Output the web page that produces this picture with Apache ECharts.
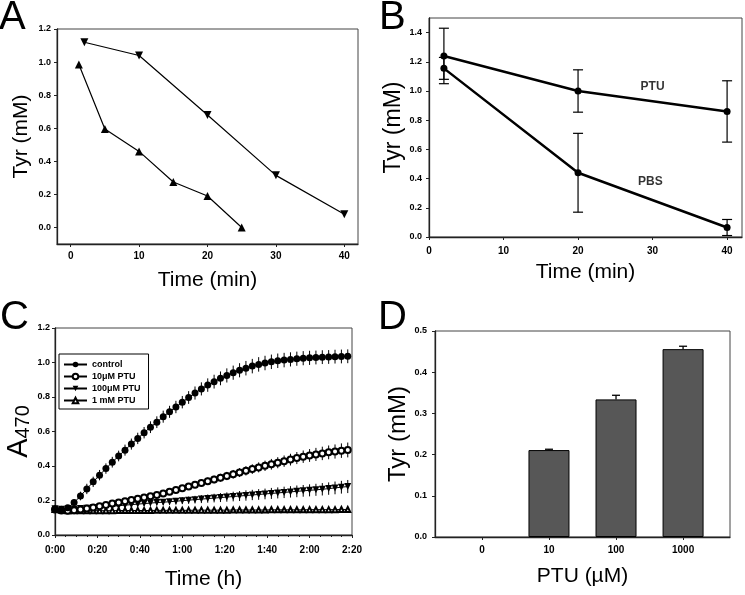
<!DOCTYPE html>
<html><head><meta charset="utf-8">
<script src="https://cdn.jsdelivr.net/npm/echarts@6/dist/echarts.min.js"></script>
<style>html,body{margin:0;padding:0;background:#fff}#c{width:745px;height:595px}</style>
</head><body><div id="c"></div>
<script>
// ---------- Panel A ----------
const aTimeDown = [2, 10, 20, 30, 40];
const aTyrDown = [1.12, 1.04, 0.68, 0.315, 0.08];
const aTimeUp = [1.2, 5, 10, 15, 20, 25];
const aTyrUp = [0.985, 0.595, 0.46, 0.275, 0.19, 0.0];
const aXTicks = [0, 10, 20, 30, 40];
const aYTicks = [0, 0.2, 0.4, 0.6, 0.8, 1.0, 1.2];
// ---------- Panel B ----------
const bTime = [2, 20, 40];
const bPTU = [1.24, 1.0, 0.86];
const bPTUerr = [0.19, 0.145, 0.21];
const bPBS = [1.155, 0.44, 0.065];
const bPBSerr = [0.075, 0.27, 0.055];
const bXTicks = [0, 10, 20, 30, 40];
const bYTicks = [0, 0.2, 0.4, 0.6, 0.8, 1.0, 1.2, 1.4];
const bLabels = [['PTU', 30, 1.03], ['PBS', 29.7, 0.38]];
// ---------- Panel C ----------
const cNames = ['control', '10\u03bcM PTU', '100\u03bcM PTU', '1 mM PTU'];
const cTime = [0,3,6,9,12,15,18,21,24,27,30,33,36,39,42,45,48,51,54,57,60,63,66,69,72,75,78,81,84,87,90,93,96,99,102,105,108,111,114,117,120,123,126,129,132,135,138];
const cControl = [0.150,0.145,0.158,0.188,0.226,0.267,0.308,0.347,0.385,0.422,
 0.458,0.492,0.527,0.560,0.593,0.625,0.654,0.686,0.714,0.742,
 0.770,0.797,0.823,0.847,0.869,0.889,0.908,0.925,0.941,0.955,
 0.967,0.979,0.989,0.997,1.004,1.010,1.014,1.018,1.022,1.025,
 1.027,1.029,1.031,1.032,1.034,1.035,1.036];
const cControlErr = [0.008,0.008,0.010,0.018,0.025,0.030,0.030,0.030,0.030,0.031,
 0.031,0.032,0.032,0.033,0.033,0.034,0.034,0.035,0.035,0.036,
 0.036,0.037,0.038,0.038,0.039,0.040,0.040,0.041,0.041,0.041,
 0.042,0.042,0.042,0.042,0.042,0.042,0.042,0.041,0.041,0.041,
 0.041,0.040,0.040,0.040,0.040,0.040,0.040];
const c10 = [0.148,0.142,0.140,0.143,0.148,0.154,0.160,0.167,0.174,0.182,
 0.189,0.196,0.203,0.210,0.217,0.224,0.232,0.241,0.251,0.261,
 0.271,0.281,0.291,0.302,0.312,0.322,0.332,0.342,0.352,0.362,
 0.372,0.382,0.392,0.401,0.410,0.419,0.428,0.437,0.446,0.454,
 0.461,0.467,0.473,0.479,0.484,0.489,0.493];
const c10Err = [0.004,0.004,0.004,0.005,0.005,0.005,0.006,0.006,0.007,0.007,
 0.008,0.008,0.009,0.010,0.011,0.012,0.013,0.014,0.015,0.016,
 0.017,0.018,0.019,0.020,0.021,0.022,0.023,0.024,0.025,0.026,
 0.027,0.028,0.029,0.030,0.031,0.032,0.033,0.034,0.035,0.036,
 0.037,0.038,0.039,0.040,0.041,0.042,0.043];
const c100 = [0.152,0.150,0.150,0.151,0.153,0.155,0.158,0.161,0.164,0.167,
 0.170,0.173,0.176,0.179,0.182,0.185,0.188,0.190,0.193,0.196,
 0.199,0.202,0.205,0.208,0.211,0.214,0.217,0.220,0.223,0.226,
 0.229,0.232,0.235,0.238,0.241,0.244,0.247,0.250,0.253,0.256,
 0.259,0.262,0.265,0.269,0.273,0.277,0.281];
const c100Err = [0.004,0.004,0.004,0.005,0.005,0.006,0.006,0.007,0.008,0.009,
 0.010,0.011,0.012,0.013,0.014,0.015,0.016,0.017,0.018,0.019,
 0.020,0.021,0.022,0.023,0.024,0.025,0.026,0.027,0.028,0.029,
 0.030,0.030,0.031,0.031,0.032,0.032,0.033,0.033,0.034,0.034,
 0.035,0.035,0.036,0.036,0.037,0.037,0.038];
const c1mM = [0.148,0.143,0.141,0.140,0.140,0.140,0.141,0.141,0.141,0.141,
 0.142,0.142,0.142,0.142,0.142,0.142,0.143,0.143,0.143,0.143,
 0.143,0.143,0.144,0.144,0.144,0.144,0.144,0.144,0.145,0.145,
 0.145,0.145,0.145,0.145,0.146,0.146,0.146,0.146,0.146,0.146,
 0.147,0.147,0.147,0.147,0.147,0.148,0.148];
// ---------- Panel D ----------
const dCategories = ['0', '10', '100', '1000'];
const dTyr = [0, 0.211, 0.334, 0.456];
const dErr = [0, 0.002, 0.010, 0.007];

const FONT = '"Liberation Sans", Arial, Helvetica, sans-serif';
const AXC = '#222';

function pairs(xs, ys) { return xs.map((x, i) => [x, ys[i]]); }
function errData(xs, ys, es) { return xs.map((x, i) => [x, ys[i] - es[i], ys[i] + es[i]]); }
function errRender(capW, lw, topOnly) {
  return function (params, api) {
    const x = api.value(0), lo = api.value(1), hi = api.value(2);
    const p1 = api.coord([x, lo]), p2 = api.coord([x, hi]);
    const st = { stroke: '#000', lineWidth: lw };
    const ch = [{ type: 'line', shape: { x1: p1[0], y1: p1[1], x2: p2[0], y2: p2[1] }, style: st }];
    if (capW > 0) {
      ch.push({ type: 'line', shape: { x1: p2[0] - capW / 2, y1: p2[1], x2: p2[0] + capW / 2, y2: p2[1] }, style: st });
      if (!topOnly) ch.push({ type: 'line', shape: { x1: p1[0] - capW / 2, y1: p1[1], x2: p1[0] + capW / 2, y2: p1[1] }, style: st });
    }
    return { type: 'group', children: ch };
  };
}
function xAxisDef(grid, o) {
  return Object.assign({
    type: 'value', gridIndex: grid, nameLocation: 'middle',
    nameTextStyle: { fontFamily: FONT, fontSize: 21, color: '#000' },
    axisLine: { show: true, onZero: false, lineStyle: { color: AXC, width: 1.3 } },
    axisTick: { show: true, length: 3, lineStyle: { color: AXC, width: 1 } },
    splitLine: { show: false }
  }, o);
}
function yAxisDef(grid, o) {
  return Object.assign({
    type: 'value', gridIndex: grid, nameLocation: 'middle', nameRotate: 90,
    nameTextStyle: { fontFamily: FONT, fontSize: 22, color: '#000' },
    axisLine: { show: true, onZero: false, lineStyle: { color: AXC, width: 1.3 } },
    axisTick: { show: true, length: 3, lineStyle: { color: AXC, width: 1 } },
    splitLine: { show: false }
  }, o);
}
const lblX = (o) => Object.assign({ fontFamily: FONT, fontWeight: 'bold', fontSize: 10, color: '#000' }, o);
const lblY = (o) => Object.assign({ fontFamily: FONT, fontWeight: 'bold', fontSize: 9, color: '#000' }, o);
const gridBase = { show: true, borderColor: '#444', borderWidth: 1, containLabel: false };
const titleStyle = { fontSize: 40, fontWeight: 'normal', fontFamily: FONT, color: '#000' };
const fmtHM = v => Math.floor(v / 60) + ':' + String(v % 60).padStart(2, '0');

const option = {
  backgroundColor: '#fff',
  animation: false,
  title: [
    { text: 'A', left: -1, top: -2, padding: 0, textStyle: titleStyle },
    { text: 'B', left: 379, top: -2, padding: 0, textStyle: titleStyle },
    { text: 'C', left: 0, top: 298, padding: 0, textStyle: titleStyle },
    { text: 'D', left: 378, top: 298, padding: 0, textStyle: titleStyle }
  ],
  grid: [
    Object.assign({ left: 57, top: 29, width: 301, height: 215 }, gridBase),
    Object.assign({ left: 429, top: 18, width: 313, height: 219 }, gridBase),
    Object.assign({ left: 55, top: 328, width: 297, height: 207 }, gridBase),
    Object.assign({ left: 435, top: 331, width: 295, height: 206 }, gridBase)
  ],
  legend: {
    data: cNames, orient: 'vertical', left: 59, top: 354, selectedMode: false,
    borderColor: '#000', borderWidth: 1, padding: [6, 8, 4, 4],
    itemWidth: 23, itemHeight: 7, itemGap: 3,
    textStyle: { fontFamily: FONT, fontWeight: 'bold', fontSize: 9, color: '#000' }
  },
  xAxis: [
    xAxisDef(0, { min: -2, max: 42, name: 'Time (min)', nameGap: 26,
      axisTick: { show: true, length: 3, customValues: aXTicks, lineStyle: { color: AXC } },
      axisLabel: lblX({ customValues: aXTicks, margin: 7 }) }),
    xAxisDef(1, { min: 0, max: 42, name: 'Time (min)', nameGap: 25,
      axisTick: { show: true, length: 3, customValues: bXTicks, lineStyle: { color: AXC } },
      axisLabel: lblX({ customValues: bXTicks, margin: 9 }) }),
    xAxisDef(2, { min: 0, max: 140, interval: 20, name: 'Time (h)', nameGap: 34,
      minorTick: { show: true, splitNumber: 4, length: 2, lineStyle: { color: AXC } },
      axisLabel: lblX({ formatter: fmtHM, margin: 10 }) }),
    xAxisDef(3, { min: -0.7, max: 3.7, name: 'PTU (\u00b5M)', nameGap: 29,
      axisTick: { show: true, length: 3, customValues: [0, 1, 2, 3], lineStyle: { color: AXC } },
      axisLabel: lblX({ customValues: [0, 1, 2, 3], formatter: v => dCategories[Math.round(v)], margin: 8 }) })
  ],
  yAxis: [
    yAxisDef(0, { min: -0.1, max: 1.2, name: 'Tyr (mM)', nameGap: 25,
      nameTextStyle: { fontFamily: FONT, fontSize: 21, color: '#000' },
      axisTick: { show: true, length: 3, customValues: aYTicks, lineStyle: { color: AXC } },
      axisLabel: lblY({ customValues: aYTicks, formatter: v => v.toFixed(1), margin: 6 }) }),
    yAxisDef(1, { min: 0, max: 1.5, name: 'Tyr (mM)', nameGap: 22,
      nameTextStyle: { fontFamily: FONT, fontSize: 23, color: '#000' },
      axisTick: { show: true, length: 3, customValues: bYTicks, lineStyle: { color: AXC } },
      axisLabel: lblY({ customValues: bYTicks, formatter: v => v.toFixed(1), margin: 7 }) }),
    yAxisDef(2, { min: 0, max: 1.2, interval: 0.2, name: '{a|A}{s|470}', nameGap: 15,
      nameTextStyle: { fontFamily: FONT, color: '#000',
        rich: { a: { fontSize: 29, fontFamily: FONT, color: '#000' }, s: { fontSize: 20, fontFamily: FONT, color: '#000', padding: [8, 0, 0, 0] } } },
      axisLabel: lblY({ formatter: v => v.toFixed(1), margin: 5 }) }),
    yAxisDef(3, { min: 0, max: 0.5, interval: 0.1, name: 'Tyr (mM)', nameGap: 25,
      nameTextStyle: { fontFamily: FONT, fontSize: 24, color: '#000' },
      axisLabel: lblY({ formatter: v => v.toFixed(1), margin: 8 }) })
  ],
  series: [
    // A
    { type: 'line', name: 'A-down', xAxisIndex: 0, yAxisIndex: 0, data: pairs(aTimeDown, aTyrDown),
      symbol: 'triangle', symbolRotate: 180, symbolSize: 8, itemStyle: { color: '#000' }, lineStyle: { color: '#000', width: 1.2 } },
    { type: 'line', name: 'A-up', xAxisIndex: 0, yAxisIndex: 0, data: pairs(aTimeUp, aTyrUp),
      symbol: 'triangle', symbolSize: 8, itemStyle: { color: '#000' }, lineStyle: { color: '#000', width: 1.2 } },
    // B
    { type: 'custom', name: 'B-err-PTU', xAxisIndex: 1, yAxisIndex: 1, renderItem: errRender(10, 1.2, false),
      data: errData(bTime, bPTU, bPTUerr), encode: { x: 0, y: [1, 2] }, z: 1 },
    { type: 'custom', name: 'B-err-PBS', xAxisIndex: 1, yAxisIndex: 1, renderItem: errRender(10, 1.2, false),
      data: errData(bTime, bPBS, bPBSerr), encode: { x: 0, y: [1, 2] }, z: 1 },
    { type: 'line', name: 'PTU', xAxisIndex: 1, yAxisIndex: 1, data: pairs(bTime, bPTU),
      symbol: 'circle', symbolSize: 7, itemStyle: { color: '#000' }, lineStyle: { color: '#000', width: 2.5 }, z: 3 },
    { type: 'line', name: 'PBS', xAxisIndex: 1, yAxisIndex: 1, data: pairs(bTime, bPBS),
      symbol: 'circle', symbolSize: 7, itemStyle: { color: '#000' }, lineStyle: { color: '#000', width: 2.5 }, z: 3 },
    { type: 'scatter', name: 'B-labels', xAxisIndex: 1, yAxisIndex: 1, symbolSize: 0,
      data: bLabels.map(l => ({ value: [l[1], l[2]], name: l[0] })),
      label: { show: true, position: 'inside', formatter: p => p.name, fontFamily: FONT, fontWeight: 'bold', fontSize: 12, color: '#000' } },
    // C error bars
    { type: 'custom', name: 'C-err-1', xAxisIndex: 2, yAxisIndex: 2, renderItem: errRender(0, 1, false),
      data: errData(cTime, cControl, cControlErr), encode: { x: 0, y: [1, 2] }, z: 1 },
    { type: 'custom', name: 'C-err-2', xAxisIndex: 2, yAxisIndex: 2, renderItem: errRender(0, 1, false),
      data: errData(cTime, c10, c10Err), encode: { x: 0, y: [1, 2] }, z: 1 },
    { type: 'custom', name: 'C-err-3', xAxisIndex: 2, yAxisIndex: 2, renderItem: errRender(0, 1, false),
      data: errData(cTime, c100, c100Err), encode: { x: 0, y: [1, 2] }, z: 1 },
    // C lines
    { type: 'line', name: cNames[3], xAxisIndex: 2, yAxisIndex: 2, data: pairs(cTime, c1mM),
      symbol: 'emptyTriangle', symbolSize: 5, itemStyle: { color: '#000', borderWidth: 1 }, lineStyle: { color: '#000', width: 1 }, z: 3 },
    { type: 'line', name: cNames[2], xAxisIndex: 2, yAxisIndex: 2, data: pairs(cTime, c100),
      symbol: 'triangle', symbolRotate: 180, symbolSize: 7, itemStyle: { color: '#000' }, lineStyle: { color: '#000', width: 1 }, z: 3 },
    { type: 'line', name: cNames[1], xAxisIndex: 2, yAxisIndex: 2, data: pairs(cTime, c10),
      symbol: 'emptyCircle', symbolSize: 6, itemStyle: { color: '#000', borderWidth: 1 }, lineStyle: { color: '#000', width: 1 }, z: 3 },
    { type: 'line', name: cNames[0], xAxisIndex: 2, yAxisIndex: 2, data: pairs(cTime, cControl),
      symbol: 'circle', symbolSize: 7, itemStyle: { color: '#000' }, lineStyle: { color: '#000', width: 1 }, z: 4 },
    // D
    { type: 'bar', name: 'D-bars', xAxisIndex: 3, yAxisIndex: 3,
      data: dTyr.map((v, i) => (v === 0 ? { value: [i, v], itemStyle: { borderWidth: 0 } } : [i, v])),
      barWidth: 41, itemStyle: { color: '#575757', borderColor: '#000', borderWidth: 1 }, z: 2 },
    { type: 'custom', name: 'D-err', xAxisIndex: 3, yAxisIndex: 3, renderItem: errRender(8, 1.3, true),
      data: dTyr.map((v, i) => [i, v, v + dErr[i]]).filter(d => d[2] > d[1]), encode: { x: 0, y: [1, 2] }, z: 3 }
  ]
};
const chart = echarts.init(document.getElementById('c'), null, { renderer: 'canvas' });
chart.setOption(option);
</script></body></html>
